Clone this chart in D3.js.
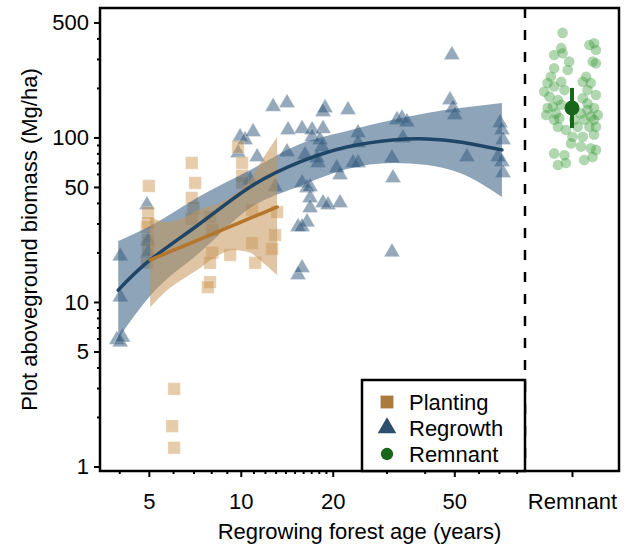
<!DOCTYPE html>
<html><head><meta charset="utf-8">
<script src="https://cdn.jsdelivr.net/npm/d3@7"></script>
<style>
body{margin:0;background:#fff}
text{font-family:"Liberation Sans",Arial,Helvetica,sans-serif}
</style>
</head><body>
<svg id="chart" width="630" height="545"></svg>
<script>
// ---------------- data ----------------
const plantingAge = [5.0,4.97,4.93,4.97,4.97,4.93,4.97,6.91,7.09,6.91,7.0,6.91,9.8,10.1,10.1,10.1,7.93,8.06,10.89,8.06,7.93,7.93,7.8,9.23,10.89,11.14,12.95,12.66,13.15,6.05,5.96,6.05];
const plantingAGB = [50.7,34.8,28.6,23.8,20.7,17.3,30.2,70,52.9,42.9,37.3,32,87.5,70,58.5,52.9,32.9,27.4,36.2,19.9,17.3,13.2,12.3,19.3,22.8,17.3,25.5,21,35.2,2.96,1.76,1.3];

const regrowthAge = [4.03,4.03,3.93,4.03,4.1,4.93,4.97,4.97,9.95,10.33,10.97,9.8,11.31,12.76,14.17,14.28,14.17,12.95,15.4,15.4,10.73,15.87,49.1,18.87,18.59,22.44,15.87,17.12,18.59,17.12,18.17,18.45,16.23,17.77,17.9,24.2,24.2,20.61,21.13,23.31,24.2,31.26,31.5,32.46,33.7,35.0,33.96,48.4,49.5,50.2,55.0,70.6,71.6,72.2,69.5,71.6,72.2,16.48,16.86,16.86,18.59,19.3,21.13,16.86,16.48,15.87,31.26,15.87];
const regrowthAGB = [19,10.7,5.9,5.7,6.1,38.9,23.5,19.9,100.7,96.6,108,80.5,76.1,154,162,111,81.6,50,28.6,14.6,55.1,52.9,317,151,143,147,113,111,113,100.7,96.6,87.5,78.3,75,70,106.5,92.6,65.3,59.2,70,70,75,56.7,128,131,124,99.3,169,151,137,76.1,122.5,111,96.6,76.1,71,60.8,49.3,50,42.9,40,38.9,40,37.3,30.6,28.6,20.1,16.1];

const remnantCategory = ["Remnant"];
const remnantAGB = [432,317,349,325,289,263,257,234,214,190,204,218,194,177,169,154,140,128,151,158,116,111,101,92,80,78,68,70,137,131,
  365,374,340,289,282,234,218,214,194,181,173,161,151,137,134,128,128,116,116,104,101,88,86,84,73,76,140,116,128,147];
const remnantJitter = [-0.2,-0.38,-0.23,-0.2,-0.06,-0.38,-0.09,-0.45,-0.52,-0.59,-0.38,-0.23,-0.16,-0.48,-0.3,-0.41,-0.34,-0.38,-0.52,-0.23,-0.3,-0.13,0.01,-0.02,-0.38,-0.16,-0.3,-0.13,-0.55,-0.27,
  0.37,0.47,0.51,0.44,0.51,0.3,0.23,0.4,0.33,0.51,0.23,0.33,0.47,0.55,0.4,0.26,0.47,0.51,0.37,0.47,0.23,0.19,0.4,0.51,0.26,0.44,0.19,0.12,0.05,0.33];
const remnantMean = [151];
const remnantLow = [114];
const remnantHigh = [200];

const regrowthFitAge = [3.97,5.05,7.36,10.73,15.63,22.27,31.5,40.7,52.2,71.6];
const regrowthFit    = [11.8,18.0,30.0,50,71,87.5,96.6,98,93.9,84];
const regrowthFitLo  = [6.0,10.9,20.1,37.3,50.7,64.4,70,68,60.8,43.5];
const regrowthFitHi  = [23.5,29,44.1,63.4,91.3,109.5,128,141,151,162];

const plantingFitAge = [5.05,5.74,6.47,7.36,8.36,9.44,10.73,11.74,13.15];
const plantingFit    = [18.0,19.9,21.8,24.1,26.6,29.2,32.3,34.6,37.8];
const plantingFitLo  = [9.3,11.8,13.8,16.1,19,20.7,19.9,17.5,14.6];
const plantingFitHi  = [32.9,30.6,32.4,36.7,39.4,44.7,55.1,73,100.7];

const xMajorTicks = [5,10,20,50];
const xMinorTicks = [4,6,7,8,9,11,12,13,14,15,16,17,18,19,30,40,60,70,80];
const yMajorTicks = [1,5,10,50,100,500];
const yMinorTicks = [2,3,4,6,7,8,9,20,30,40,60,70,80,90,200,300,400];
const legendLabels = ["Planting","Regrowth","Remnant"];
const xTitle = "Regrowing forest age (years)";
const yTitle = "Plot aboveground biomass (Mg/ha)";

// ---------------- layout & style ----------------
const FS = 22;
const P = {left:100, right:619, top:8, bottom:471, split:525};
const col = {
  plant:"#c98f45", plantLine:"#b5762c", plantBand:"#c4955a", plantKey:"#ab7a3e",
  reg:"#2b5477", regLine:"#1f4667", regBand:"#2f5a80", regKey:"#2c4f6e",
  rem:"#3a9a3a", remKey:"#17661a"
};

const svg = d3.select("#chart");
const x = d3.scaleLog().domain([3.46,85.2]).range([P.left,P.split]);
const y = d3.scaleLog().domain([0.939,612]).range([P.bottom,P.top]);
const xr = d3.scalePoint().domain(remnantCategory).range([P.split,P.right]).padding(0.5);
const jit = d3.scaleLinear().domain([-1,1]).range([-47,47]);

const planting = plantingAge.map((a,i)=>({a, v:plantingAGB[i]}));
const regrowth = regrowthAge.map((a,i)=>({a, v:regrowthAGB[i]}));
const remnant = remnantAGB.map((v,i)=>({v, j:remnantJitter[i]}));
const regFit = regrowthFitAge.map((a,i)=>({a, m:regrowthFit[i], lo:regrowthFitLo[i], hi:regrowthFitHi[i]}));
const plFit = plantingFitAge.map((a,i)=>({a, m:plantingFit[i], lo:plantingFitLo[i], hi:plantingFitHi[i]}));

// points
const tri = d3.symbol().type(d3.symbolTriangle).size(110);
const sq = d3.symbol().type(d3.symbolSquare).size(155);

svg.append("g").selectAll("path").data(regrowth).join("path")
  .attr("d", tri).attr("transform", d=>`translate(${x(d.a)},${y(d.v)})`)
  .attr("fill", col.reg).attr("fill-opacity",0.5)
  .attr("stroke","#ffffff").attr("stroke-opacity",0.35).attr("stroke-width",0.8);

svg.append("g").selectAll("path").data(planting).join("path")
  .attr("d", sq).attr("transform", d=>`translate(${x(d.a)},${y(d.v)})`)
  .attr("fill", col.plant).attr("fill-opacity",0.45)
  .attr("stroke","#ffffff").attr("stroke-opacity",0.35).attr("stroke-width",0.8);

// ribbons
const band = d3.area().x(d=>x(d.a)).y0(d=>y(d.lo)).y1(d=>y(d.hi)).curve(d3.curveMonotoneX);
svg.append("path").datum(regFit).attr("d", band).attr("fill", col.regBand).attr("fill-opacity",0.55);
svg.append("path").datum(plFit).attr("d", band).attr("fill", col.plantBand).attr("fill-opacity",0.55);

// fitted lines
const line = d3.line().x(d=>x(d.a)).y(d=>y(d.m)).curve(d3.curveNatural);
svg.append("path").datum(regFit).attr("d", line).attr("fill","none")
  .attr("stroke", col.regLine).attr("stroke-width",3.5).attr("stroke-linecap","round");
svg.append("path").datum(plFit).attr("d", line).attr("fill","none")
  .attr("stroke", col.plantLine).attr("stroke-width",3.5).attr("stroke-linecap","round");

// remnant
const cx = xr("Remnant");
svg.append("g").selectAll("circle").data(remnant).join("circle")
  .attr("cx", d=>cx + jit(d.j)).attr("cy", d=>y(d.v)).attr("r",5.3)
  .attr("fill", col.rem).attr("fill-opacity",0.4);
svg.append("line").attr("x1",cx).attr("x2",cx)
  .attr("y1", y(remnantLow[0])).attr("y2", y(remnantHigh[0]))
  .attr("stroke", col.remKey).attr("stroke-width",4);
svg.append("circle").attr("cx",cx).attr("cy",y(remnantMean[0])).attr("r",7.5).attr("fill",col.remKey);

// divider
svg.append("line").attr("x1",P.split).attr("x2",P.split).attr("y1",P.top).attr("y2",P.bottom)
  .attr("stroke","#000").attr("stroke-width",2.5).attr("stroke-dasharray","10,12");

// axes
function styleAxis(g, fs){
  g.select(".domain").remove();
  g.selectAll(".tick line").attr("stroke","#000").attr("stroke-width",2);
  g.selectAll(".tick text").attr("font-size",fs).attr("fill","#000")
    .attr("font-family",'"Liberation Sans",Arial,Helvetica,sans-serif');
}
svg.append("g").attr("transform",`translate(${P.left},0)`)
  .call(d3.axisLeft(y).tickValues(yMinorTicks).tickFormat("").tickSize(3))
  .call(g=>styleAxis(g,FS));
svg.append("g").attr("transform",`translate(${P.left},0)`)
  .call(d3.axisLeft(y).tickValues(yMajorTicks).tickFormat(d3.format("d")).tickSize(6).tickPadding(5))
  .call(g=>styleAxis(g,FS));
svg.append("g").attr("transform",`translate(0,${P.bottom})`)
  .call(d3.axisBottom(x).tickValues(xMinorTicks).tickFormat("").tickSize(3))
  .call(g=>styleAxis(g,FS));
svg.append("g").attr("transform",`translate(0,${P.bottom})`)
  .call(d3.axisBottom(x).tickValues(xMajorTicks).tickFormat(d3.format("d")).tickSize(6).tickPadding(16))
  .call(g=>styleAxis(g,FS));
svg.append("g").attr("transform",`translate(0,${P.bottom})`)
  .call(d3.axisBottom(xr).tickSize(6).tickPadding(16))
  .call(g=>styleAxis(g,FS));

// frame
svg.append("rect").attr("x",P.left).attr("y",P.top).attr("width",P.right-P.left).attr("height",P.bottom-P.top)
  .attr("fill","none").attr("stroke","#000").attr("stroke-width",2.5);

// titles
svg.append("text").attr("x",(P.left+P.right)/2).attr("y",539).attr("text-anchor","middle")
  .attr("font-size",FS).text(xTitle);
svg.append("text").attr("transform",`translate(37,${(P.top+P.bottom)/2}) rotate(-90)`)
  .attr("text-anchor","middle").attr("font-size",FS).text(yTitle);

// legend
const L = {x:362, y:380, w:163, h:91};
const lg = svg.append("g");
lg.append("rect").attr("x",L.x).attr("y",L.y).attr("width",L.w).attr("height",L.h)
  .attr("fill","#fff").attr("stroke","#000").attr("stroke-width",2.5);
const keyShapes = [d3.symbolSquare, d3.symbolTriangle, d3.symbolCircle];
const keySizes = [165, 150, 120];
const keyCols = [col.plantKey, col.regKey, col.remKey];
const rowY = d3.scalePoint().domain(legendLabels).range([L.y+22, L.y+74]);
legendLabels.forEach((lab,i)=>{
  lg.append("path").attr("d", d3.symbol().type(keyShapes[i]).size(keySizes[i])())
    .attr("transform",`translate(${L.x+25},${rowY(lab)})`).attr("fill",keyCols[i]);
  lg.append("text").attr("x",L.x+47).attr("y",rowY(lab)).attr("dy","0.36em")
    .attr("font-size",FS).text(lab);
});
</script>
</body></html>
